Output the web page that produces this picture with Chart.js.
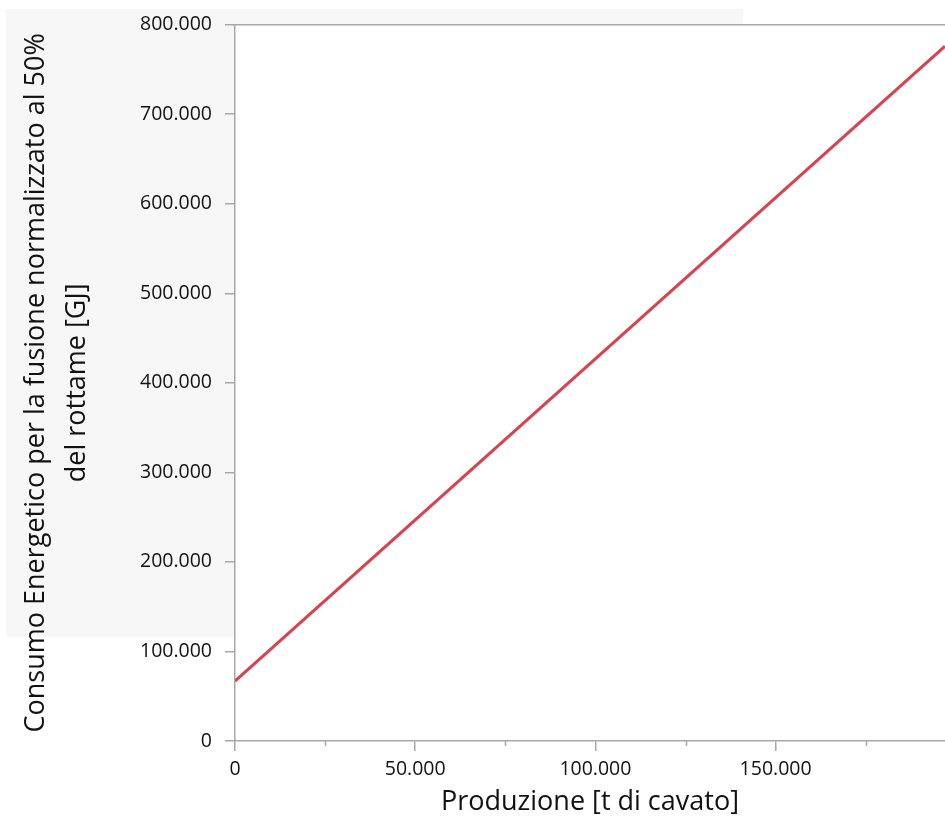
<!DOCTYPE html>
<html>
<head>
<meta charset="utf-8">
<script src="https://cdn.jsdelivr.net/npm/chart.js@4"></script>
<style>
  html, body { margin: 0; padding: 0; background: #ffffff; }
  #wrap { width: 945px; height: 819px; position: relative; }
</style>
</head>
<body>
<div id="wrap"><canvas id="c"></canvas></div>
<script>
// ---- Data ----
const production = [0, 197000];          // t di cavato
const energy = [67000, 776000];          // GJ
const xMajorTicks = [0, 50000, 100000, 150000];
const xMinorTicks = [25000, 75000, 125000, 175000];
const yTicks = [0, 100000, 200000, 300000, 400000, 500000, 600000, 700000, 800000];
const xTitle = 'Produzione [t di cavato]';
const yTitle = ['Consumo Energetico per la fusione normalizzato al 50%', 'del rottame [GJ]'];

const FONT = '"Open Sans", "Noto Sans", sans-serif';
const AXIS_COLOR = '#a8a8a8';
const TEXT_COLOR = '#111111';

function fmt(v) {
  return String(Math.round(v)).replace(/\B(?=(\d{3})+(?!\d))/g, '.');
}

const points = production.map((x, i) => ({ x: x, y: energy[i] }));

const decorPlugin = {
  id: 'decor',
  beforeDraw(chart) {
    const ctx = chart.ctx;
    const a = chart.chartArea;
    ctx.save();
    ctx.fillStyle = '#f7f7f7';
    ctx.fillRect(6, 9, 737, 628);
    ctx.fillStyle = '#ffffff';
    ctx.fillRect(a.left, a.top, a.right - a.left, a.bottom - a.top);
    ctx.restore();
  },
  afterDraw(chart) {
    const ctx = chart.ctx;
    const a = chart.chartArea;
    const xs = chart.scales.x;
    ctx.save();
    ctx.strokeStyle = AXIS_COLOR;
    ctx.lineWidth = 1.5;
    ctx.beginPath();
    ctx.moveTo(a.left, a.top);
    ctx.lineTo(a.right, a.top);
    ctx.stroke();
    xMinorTicks.forEach(v => {
      const px = Math.round(xs.getPixelForValue(v)) + 0.5;
      ctx.beginPath();
      ctx.moveTo(px, a.bottom);
      ctx.lineTo(px, a.bottom + 5);
      ctx.stroke();
    });
    ctx.restore();
  }
};

new Chart(document.getElementById('c'), {
  type: 'scatter',
  data: {
    datasets: [{
      data: points,
      showLine: true,
      borderColor: 'rgb(214,68,82)',
      borderWidth: 3,
      pointRadius: 0,
      pointHoverRadius: 0,
      fill: false,
      tension: 0
    }]
  },
  options: {
    responsive: true,
    maintainAspectRatio: false,
    animation: false,
    layout: { padding: { top: 22, right: 0, left: 0, bottom: 0 } },
    plugins: { legend: { display: false }, tooltip: { enabled: false } },
    scales: {
      x: {
        type: 'linear',
        min: 0,
        max: 197000,
        afterBuildTicks: s => { s.ticks = xMajorTicks.map(v => ({ value: v })); },
        afterFit: s => { s.height = 78; },
        ticks: {
          callback: v => fmt(v),
          font: { family: FONT, size: 19.5 },
          color: TEXT_COLOR,
          padding: 7,
          maxRotation: 0,
          autoSkip: false
        },
        grid: { display: true, drawOnChartArea: false, drawTicks: true, tickLength: 10, color: AXIS_COLOR, lineWidth: 1.5 },
        border: { display: true, color: AXIS_COLOR, width: 1.5 },
        title: {
          display: true,
          text: xTitle,
          font: { family: FONT, size: 27, lineHeight: 1.2 },
          color: TEXT_COLOR,
          padding: { top: 0, bottom: 0 }
        }
      },
      y: {
        type: 'linear',
        min: 0,
        max: 800000,
        afterBuildTicks: s => { s.ticks = yTicks.map(v => ({ value: v })); },
        afterFit: s => { s.width = 235; },
        ticks: {
          callback: v => fmt(v),
          font: { family: FONT, size: 19.5 },
          color: TEXT_COLOR,
          padding: 13,
          autoSkip: false
        },
        grid: { display: true, drawOnChartArea: false, drawTicks: true, tickLength: 10, color: AXIS_COLOR, lineWidth: 1.5 },
        border: { display: true, color: AXIS_COLOR, width: 1.5 },
        title: {
          display: true,
          text: yTitle,
          font: { family: FONT, size: 27, lineHeight: 1.52 },
          color: TEXT_COLOR,
          padding: { top: 16, bottom: 0 }
        }
      }
    }
  },
  plugins: [decorPlugin]
});
</script>
</body>
</html>
